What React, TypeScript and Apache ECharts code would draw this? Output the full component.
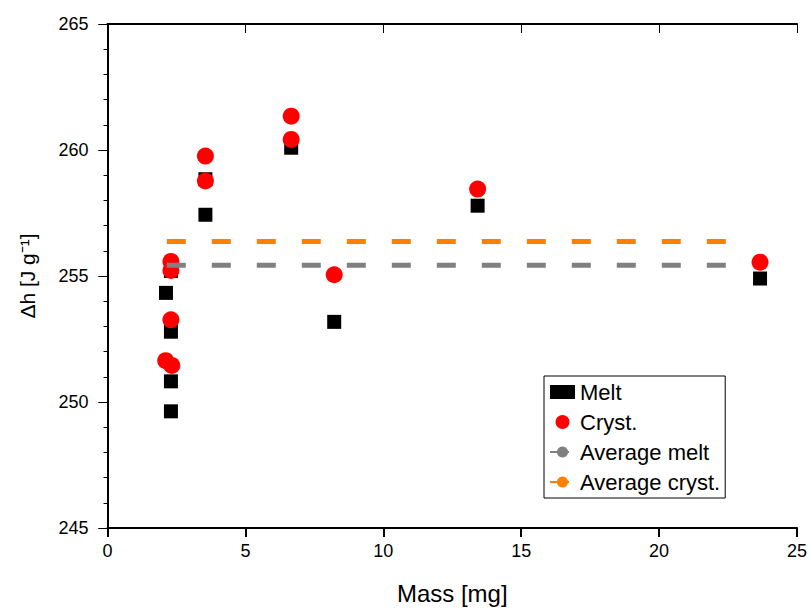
import React, { useEffect, useRef } from "react";
import * as echarts from "echarts";

// Mass [mg] and Δh [J g^-1]
const massMelt = [2.12, 2.3, 2.3, 2.3, 2.3, 3.55, 3.55, 6.66, 8.22, 13.42, 23.66];
const hMelt = [254.33, 255.2, 252.79, 250.82, 249.63, 258.84, 257.43, 260.09, 253.18, 257.79, 254.9];

const massCryst = [2.11, 2.33, 2.3, 2.3, 2.3, 3.55, 3.55, 6.66, 6.66, 8.22, 13.42, 23.66];
const hCryst = [251.64, 251.45, 253.26, 255.22, 255.58, 259.76, 258.77, 261.34, 260.42, 255.05, 258.45, 255.55];

const avgRange = [2.15, 22.9];
const avgMelt = 255.43;
const avgCryst = 256.37;

const xTicks = { min: 0, max: 25, interval: 5 };
const yTicks = { min: 245, max: 265, interval: 5 };

const FONT = "'Liberation Sans', Arial, sans-serif";

export default function App() {
  const ref = useRef<HTMLDivElement>(null);
  useEffect(() => {
    if (!ref.current) return;
    const chart = echarts.init(ref.current, null, { renderer: "svg" });
    const zip = (a: number[], b: number[]) => a.map((v, i) => [v, b[i]]);

    chart.setOption({
      animation: false,
      grid: { left: 107.5, right: 14, top: 24, bottom: 79.5 },
      xAxis: [
        {
          type: "value",
          min: xTicks.min,
          max: xTicks.max,
          interval: xTicks.interval,
          position: "bottom",
          splitLine: { show: false },
          axisLine: { show: true, lineStyle: { color: "#000", width: 2 } },
          axisTick: { show: true, length: 9, lineStyle: { color: "#000", width: 2 } },
          axisLabel: { color: "#000", fontSize: 18, margin: 14, fontFamily: FONT },
          name: "Mass [mg]",
          nameLocation: "middle",
          nameGap: 53,
          nameTextStyle: { color: "#000", fontSize: 24, fontFamily: FONT },
        },
        {
          type: "value",
          min: xTicks.min,
          max: xTicks.max,
          interval: xTicks.interval,
          position: "top",
          splitLine: { show: false },
          axisLine: { show: true, lineStyle: { color: "#000", width: 2 } },
          axisTick: { show: true, inside: true, length: 9 },
          axisLabel: { show: false },
        },
      ],
      yAxis: [
        {
          type: "value",
          min: yTicks.min,
          max: yTicks.max,
          interval: yTicks.interval,
          position: "left",
          splitLine: { show: false },
          axisLine: { show: true, lineStyle: { color: "#000", width: 2 } },
          axisTick: { show: true, length: 9 },
          minorTick: { show: true, splitNumber: 5, length: 4 },
          axisLabel: { color: "#000", fontSize: 18, margin: 19, fontFamily: FONT },
          name: "Δh [J g⁻¹]",
          nameLocation: "middle",
          nameRotate: 90,
          nameGap: 70,
          nameTextStyle: { color: "#000", fontSize: 21, fontFamily: FONT },
        },
        {
          type: "value",
          min: yTicks.min,
          max: yTicks.max,
          interval: yTicks.interval,
          position: "right",
          splitLine: { show: false },
          axisLine: { show: true, lineStyle: { color: "#000", width: 2 } },
          axisTick: { show: true, inside: true, length: 9 },
          axisLabel: { show: false },
        },
      ],
      legend: {
        orient: "vertical",
        left: 544,
        top: 376,
        borderColor: "#000",
        borderWidth: 1,
        textStyle: { color: "#000", fontSize: 22, fontFamily: FONT },
      },
      series: [
        {
          name: "Melt",
          type: "scatter",
          symbol: "rect",
          symbolSize: 14,
          color: "#000",
          itemStyle: { opacity: 1 },
          data: zip(massMelt, hMelt),
        },
        {
          name: "Cryst.",
          type: "scatter",
          symbol: "circle",
          symbolSize: 17,
          color: "#ff0000",
          itemStyle: { opacity: 1 },
          data: zip(massCryst, hCryst),
        },
        {
          name: "Average melt",
          type: "line",
          data: [
            [avgRange[0], avgMelt],
            [avgRange[1], avgMelt],
          ],
          symbol: "none",
          color: "#808080",
          lineStyle: { width: 5, type: [19, 26] },
        },
        {
          name: "Average cryst.",
          type: "line",
          data: [
            [avgRange[0], avgCryst],
            [avgRange[1], avgCryst],
          ],
          symbol: "none",
          color: "#ff8000",
          lineStyle: { width: 5, type: [19, 26] },
        },
      ],
    });
    return () => chart.dispose();
  }, []);
  return <div ref={ref} style={{ position: "fixed", left: 0, top: 0, width: 811, height: 610, background: "#fff" }} />;
}
